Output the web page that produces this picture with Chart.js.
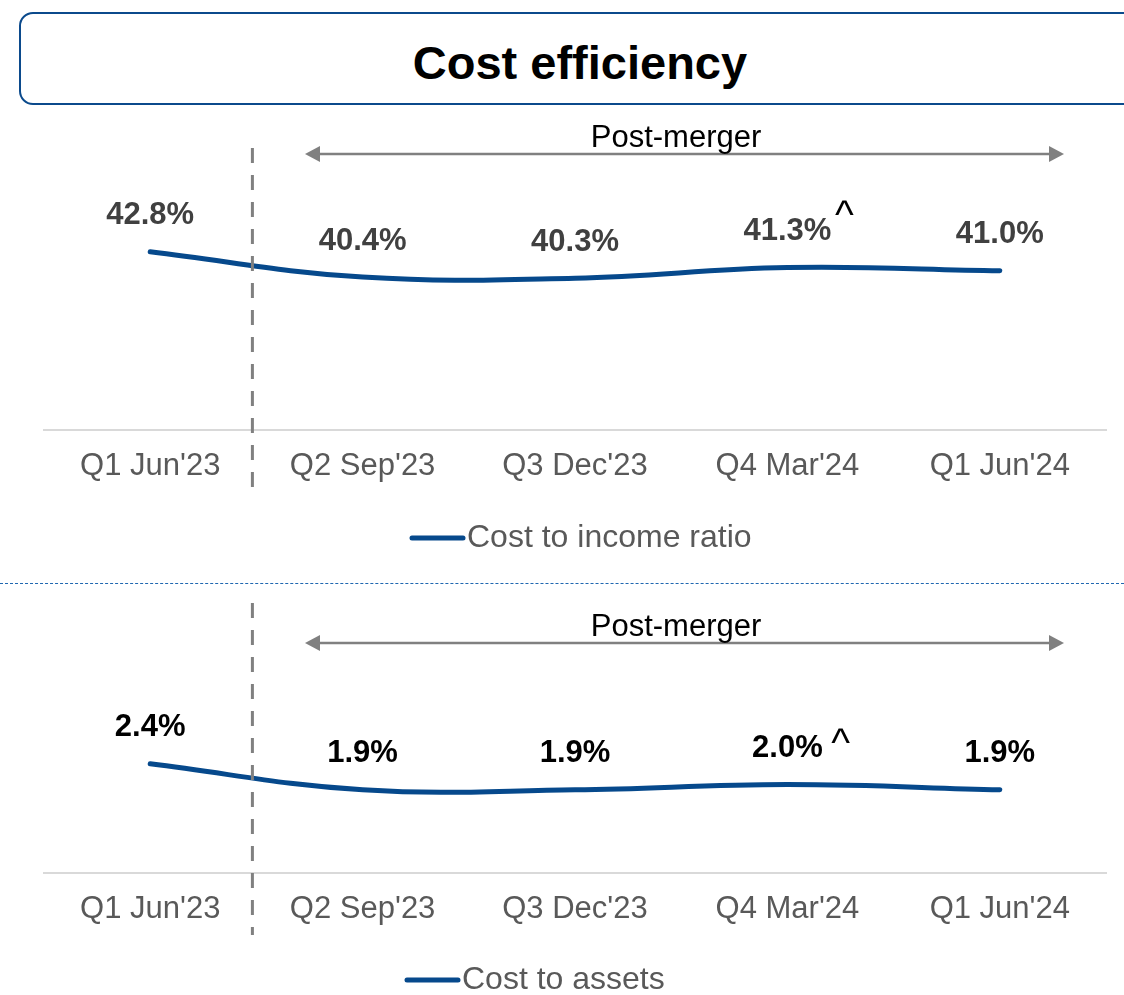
<!DOCTYPE html>
<html>
<head>
<meta charset="utf-8">
<script src="https://cdn.jsdelivr.net/npm/chart.js@4.4.0/dist/chart.umd.min.js"></script>
<style>
  body { margin: 0; width: 1124px; height: 995px; overflow: hidden; background: #fff; position: relative;
         font-family: 'Liberation Sans', Arial, sans-serif; }
  .title { position: absolute; left: 19px; top: 12px; width: 1118px; height: 89px; box-sizing: content-box;
           border: 2px solid #0b4a8c; border-radius: 14px; text-align: center;
           font-weight: bold; font-size: 47px; line-height: 97px; color: #000; }
  .sep { position: absolute; left: 0; top: 583px; width: 1124px; border-top: 1px dashed #1f67b0; }
  canvas { position: absolute; left: 0; }
  #incomeChart { top: 110px; }
  #assetsChart { top: 590px; }
</style>
</head>
<body>
<div class="title">Cost efficiency</div>
<div class="sep"></div>
<canvas id="incomeChart" width="1124" height="470"></canvas>
<canvas id="assetsChart" width="1124" height="405"></canvas>
<script>
const categories = ["Q1 Jun'23", "Q2 Sep'23", "Q3 Dec'23", "Q4 Mar'24", "Q1 Jun'24"];
const costToIncome = [42.8, 40.4, 40.3, 41.3, 41.0];
const costToAssets = [2.4, 1.9, 1.9, 2.0, 1.9];

const FONT = "'Liberation Sans', Arial, sans-serif";
const LINE_COLOR = '#06498c';

// divider, post-merger arrow, value labels, caret and legend
const decor = {
  id: 'decor',
  afterDatasetsDraw(chart, args, o) {
    const ctx = chart.ctx;
    const x = chart.scales.x;
    const ds = chart.data.datasets[0];
    const meta = chart.getDatasetMeta(0);
    ctx.save();

    const dx = (x.getPixelForValue(0) + x.getPixelForValue(1)) / 2 - 4;
    ctx.strokeStyle = '#808080';
    ctx.lineWidth = 3;
    ctx.setLineDash([15, 12]);
    ctx.beginPath();
    ctx.moveTo(dx, o.dividerTop);
    ctx.lineTo(dx, o.dividerBottom);
    ctx.stroke();
    ctx.setLineDash([]);

    // arrow
    const ax1 = 305, ax2 = 1064, ay = o.arrowY;
    ctx.strokeStyle = '#808080';
    ctx.fillStyle = '#808080';
    ctx.lineWidth = 2.5;
    ctx.beginPath();
    ctx.moveTo(ax1 + 10, ay);
    ctx.lineTo(ax2 - 10, ay);
    ctx.stroke();
    ctx.beginPath();
    ctx.moveTo(ax1, ay); ctx.lineTo(ax1 + 15, ay - 8); ctx.lineTo(ax1 + 15, ay + 8); ctx.closePath();
    ctx.fill();
    ctx.beginPath();
    ctx.moveTo(ax2, ay); ctx.lineTo(ax2 - 15, ay - 8); ctx.lineTo(ax2 - 15, ay + 8); ctx.closePath();
    ctx.fill();

    ctx.fillStyle = '#000';
    ctx.font = '31px ' + FONT;
    ctx.textAlign = 'center';
    ctx.textBaseline = 'middle';
    ctx.fillText('Post-merger', 676, o.arrowTextY);

    // value labels
    ctx.font = 'bold 31px ' + FONT;
    ctx.fillStyle = o.labelColor;
    meta.data.forEach((pt, i) => {
      const txt = ds.data[i].toFixed(1) + '%';
      const ly = pt.y - 36;
      ctx.textAlign = 'center';
      ctx.fillText(txt, pt.x, ly);
      if (i === o.caretIndex) {
        const right = pt.x + ctx.measureText(txt).width / 2;
        ctx.save();
        ctx.font = '40px ' + FONT;
        ctx.fillStyle = '#000';
        ctx.textAlign = 'center';
        ctx.textBaseline = 'alphabetic';
        ctx.fillText('^', right + o.caretDx, ly + o.caretDy);
        ctx.restore();
      }
    });

    // legend
    ctx.strokeStyle = ds.borderColor;
    ctx.lineWidth = 5;
    ctx.lineCap = 'round';
    ctx.beginPath();
    ctx.moveTo(o.legendX + 2, o.legendY);
    ctx.lineTo(o.legendX + 53, o.legendY);
    ctx.stroke();
    ctx.font = '32px ' + FONT;
    ctx.fillStyle = '#595959';
    ctx.textAlign = 'left';
    ctx.fillText(ds.label, o.legendX + 57, o.legendY);
    ctx.restore();
  }
};

function makeChart(id, label, values, yMin, yMax, padBottom, deco) {
  return new Chart(document.getElementById(id), {
    type: 'line',
    data: {
      labels: categories,
      datasets: [{
        label: label,
        data: values,
        borderColor: LINE_COLOR,
        borderWidth: 5,
        borderCapStyle: 'round',
        tension: 0.4,
        pointRadius: 0,
        fill: false
      }]
    },
    options: {
      responsive: false,
      animation: false,
      layout: { padding: { left: 44, right: 18, top: 10, bottom: padBottom } },
      plugins: {
        legend: { display: false },
        tooltip: { enabled: false },
        decor: deco
      },
      scales: {
        x: {
          offset: true,
          grid: { display: false, drawTicks: false },
          border: { display: true, color: '#d9d9d9', width: 2 },
          ticks: { color: '#595959', font: { size: 31, family: FONT }, padding: 18, maxRotation: 0, autoSkip: false },
          afterFit: function (scale) { scale.height = 60; }
        },
        y: { display: false, min: yMin, max: yMax }
      }
    },
    plugins: [decor]
  });
}

makeChart('incomeChart', 'Cost to income ratio', costToIncome, 25.9, 55.3, 90, {
  dividerTop: 38, dividerBottom: 377, arrowY: 44, arrowTextY: 28,
  labelColor: '#404040', caretIndex: 3, caretDx: 13, caretDy: -4,
  legendX: 410, legendY: 428
});

makeChart('assetsChart', 'Cost to assets', costToAssets, 0.3, 5.55, 62, {
  dividerTop: 13, dividerBottom: 345, arrowY: 53, arrowTextY: 37,
  labelColor: '#000000', caretIndex: 3, caretDx: 18, caretDy: 7,
  legendX: 405, legendY: 390
});
</script>
</body>
</html>
